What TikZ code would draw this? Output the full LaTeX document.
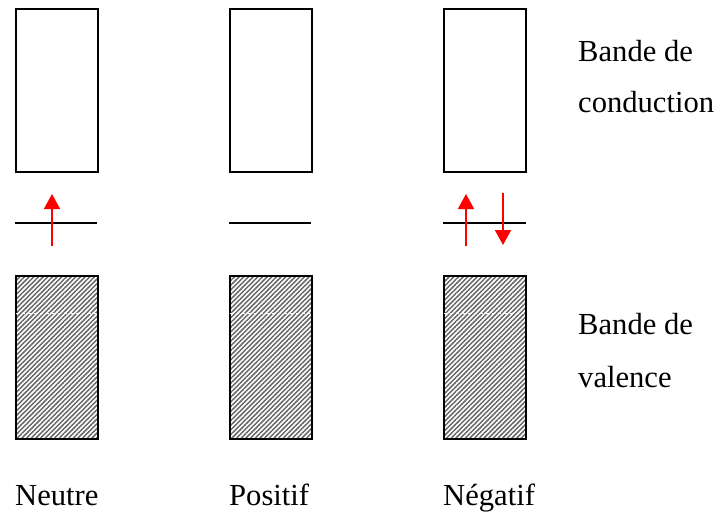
\documentclass[tikz,border=0pt]{standalone}
\usepackage{fontspec}
\setmainfont{Liberation Serif}
\usepackage{tikz}
\usetikzlibrary{positioning}
\usetikzlibrary{arrows.meta}
\usetikzlibrary{patterns.meta}

\tikzset{
  band/.style={draw, line width=1.8pt, minimum width=82pt, minimum height=163pt, inner sep=0pt, anchor=north west},
  valband/.style={band, pattern={Lines[angle=45,distance=3.3pt,line width=1.5pt]}, pattern color=black!60},
  level/.style={line width=1.8pt},
  spin/.style={red, line width=1.8pt, -{Triangle[length=15pt,width=16pt]}},
  lbl/.style={anchor=base west, inner sep=0pt, font=\fontsize{30.6}{36}\selectfont}
}

\begin{document}
\begin{tikzpicture}[x=1pt, y=-1pt]
\useasboundingbox (0,0) rectangle (719,516);

% bandes de conduction
\node[band] (cb1) at (15,8) {};
\node[band] (cb2) at (229,8) {};
\node[band] (cb3) at (443,8) {};

% bandes de valence
\node[valband] (vb1) at (15,275) {};
\node[valband] (vb2) at (229,275) {};
\node[valband] (vb3) at (443,275) {};
\draw[white, dashed, line width=0.4pt] (15.8,313) -- (96.2,313);
\draw[white, dashed, line width=0.4pt] (229.8,313) -- (310.2,313);
\draw[white, dashed, line width=0.4pt] (443.8,313) -- (524.2,313);

% niveaux
\coordinate (lv1a) at (15,223);  \coordinate (lv1b) at (97,223);
\coordinate (lv2a) at (229,223); \coordinate (lv2b) at (311,223);
\coordinate (lv3a) at (443,223); \coordinate (lv3b) at (526,223);
\draw[level] (lv1a) -- (lv1b);
\draw[level] (lv2a) -- (lv2b);
\draw[level] (lv3a) -- (lv3b);

% spins
\coordinate (up1a) at (52,246);  \coordinate (up1b) at (52,194);
\coordinate (up3a) at (466,246); \coordinate (up3b) at (466,194);
\coordinate (dn3a) at (503,193); \coordinate (dn3b) at (503,245);
\draw[spin] (up1a) -- (up1b);
\draw[spin] (up3a) -- (up3b);
\draw[spin] (dn3a) -- (dn3b);

% textes
\node[lbl] (cond1) at (578,62) {Bande de};
\node[lbl] (cond2) at (578,113) {conduction};
\node[lbl] (val1) at (578,334) {Bande de};
\node[lbl] (val2) at (578,387) {valence};

\node[lbl] (neutre) at (15,505) {Neutre};
\node[lbl] (positif) at (229,505) {Positif};
\node[lbl] (negatif) at (443,505) {Négatif};
\end{tikzpicture}
\end{document}
